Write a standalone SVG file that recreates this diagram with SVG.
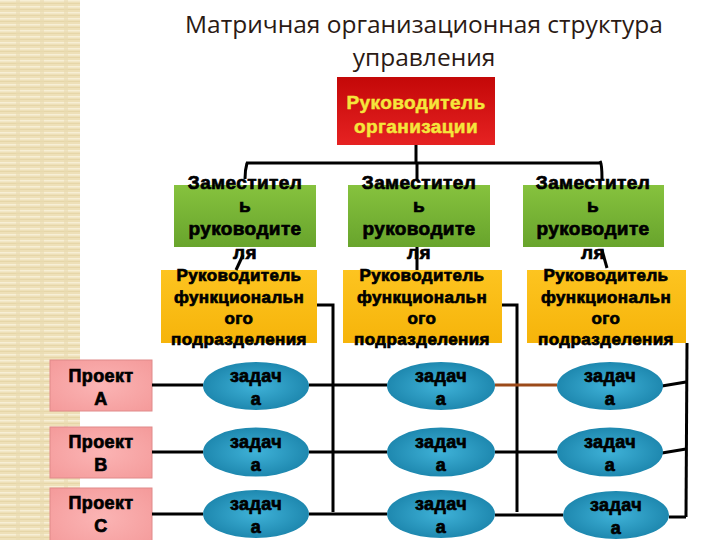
<svg xmlns="http://www.w3.org/2000/svg" width="720" height="540" viewBox="0 0 720 540">
<defs>
<pattern id="stripes" width="24" height="6" patternUnits="userSpaceOnUse">
<rect width="24" height="6" fill="#eee0b8"/>
<rect y="0" width="24" height="1.5" fill="#f7efd6"/>
<rect y="3" width="24" height="1" fill="#e6d6a8"/>
<rect x="16" y="0" width="4" height="6" fill="#e9dab0" opacity="0.6"/>
</pattern>
<linearGradient id="gRed" x1="0" y1="0" x2="0" y2="1">
<stop offset="0" stop-color="#c40808"/>
<stop offset="1" stop-color="#e62222"/>
</linearGradient>
<linearGradient id="gGreen" x1="0" y1="0" x2="0" y2="1">
<stop offset="0" stop-color="#86c23e"/>
<stop offset="1" stop-color="#68a42c"/>
</linearGradient>
<linearGradient id="gYellow" x1="0" y1="0" x2="0" y2="1">
<stop offset="0" stop-color="#fdc420"/>
<stop offset="1" stop-color="#f6b40a"/>
</linearGradient>
<radialGradient id="gPink" cx="0.5" cy="0.5" r="0.7">
<stop offset="0" stop-color="#fbb4b4"/>
<stop offset="1" stop-color="#f49a9a"/>
</radialGradient>
<radialGradient id="gBlue" cx="0.5" cy="0.5" r="0.55">
<stop offset="0" stop-color="#3fb2d8"/>
<stop offset="1" stop-color="#1b84ab"/>
</radialGradient>
</defs>
<style>
.t{font-family:"Liberation Sans",Arial,sans-serif;font-weight:bold;text-anchor:middle;fill:#000;stroke:#000;stroke-width:0.7;letter-spacing:0.4px}
.g{font-size:19px}
.y{font-size:17px}
.p{font-size:18px}
.k{font-size:18px}
.r{font-size:19px;fill:#f5e63c;stroke:#f5e63c;stroke-width:0.5}
.title{font-family:"Open Sans","DejaVu Sans",sans-serif;font-size:24.5px;fill:#2b1a14;text-anchor:middle}
.ln{stroke:#000;stroke-width:3;fill:none}
.pink{fill:url(#gPink);stroke:#e08a8a;stroke-width:1}
.ell{fill:url(#gBlue)}
</style>
<rect width="720" height="540" fill="#fff"/>
<rect x="0" y="0" width="80" height="540" fill="url(#stripes)"/>

<g id="title">
<text class="title" x="424" y="33">Матричная организационная структура</text>
<text class="title" x="424" y="66">управления</text>
</g>

<g id="head">
<rect x="337" y="77" width="158" height="68" fill="url(#gRed)"/>
<text class="t r" x="416" y="109">Руководитель</text>
<text class="t r" x="416" y="133">организации</text>
</g>

<g id="deputy1">
<rect x="174" y="185" width="142" height="62" fill="url(#gGreen)"/>
<text class="t g" x="245" y="189">Заместител</text>
<text class="t g" x="245" y="212">ь</text>
<text class="t g" x="245" y="235">руководите</text>
<text class="t g" x="245" y="259">ля</text>
</g>
<g id="deputy2">
<rect x="348" y="185" width="142" height="62" fill="url(#gGreen)"/>
<text class="t g" x="419" y="189">Заместител</text>
<text class="t g" x="419" y="212">ь</text>
<text class="t g" x="419" y="235">руководите</text>
<text class="t g" x="419" y="259">ля</text>
</g>
<g id="deputy3">
<rect x="523" y="185" width="141" height="62" fill="url(#gGreen)"/>
<text class="t g" x="593" y="189">Заместител</text>
<text class="t g" x="593" y="212">ь</text>
<text class="t g" x="593" y="235">руководите</text>
<text class="t g" x="593" y="259">ля</text>
</g>

<g id="func1">
<rect x="161" y="270" width="156" height="73" fill="url(#gYellow)"/>
<text class="t y" x="239" y="281">Руководитель</text>
<text class="t y" x="239" y="303">функциональн</text>
<text class="t y" x="239" y="324">ого</text>
<text class="t y" x="239" y="345">подразделения</text>
</g>
<g id="func2">
<rect x="343" y="270" width="159" height="73" fill="url(#gYellow)"/>
<text class="t y" x="422" y="281">Руководитель</text>
<text class="t y" x="422" y="303">функциональн</text>
<text class="t y" x="422" y="324">ого</text>
<text class="t y" x="422" y="345">подразделения</text>
</g>
<g id="func3">
<rect x="527" y="270" width="159" height="73" fill="url(#gYellow)"/>
<text class="t y" x="606" y="281">Руководитель</text>
<text class="t y" x="606" y="303">функциональн</text>
<text class="t y" x="606" y="324">ого</text>
<text class="t y" x="606" y="345">подразделения</text>
</g>

<g id="projA">
<rect class="pink" x="50" y="360" width="102" height="51"/>
<text class="t p" x="101" y="382">Проект</text>
<text class="t p" x="101" y="405">А</text>
</g>
<g id="projB">
<rect class="pink" x="50" y="427" width="102" height="51"/>
<text class="t p" x="101" y="448">Проект</text>
<text class="t p" x="101" y="471">В</text>
</g>
<g id="projC">
<rect class="pink" x="50" y="488" width="102" height="60"/>
<text class="t p" x="101" y="509">Проект</text>
<text class="t p" x="101" y="532">С</text>
</g>

<g id="connectors">
<path class="ln" d="M416 145V163"/>
<path class="ln" d="M246 163H602"/>
<path class="ln" d="M247 163Q245 170 245 179"/>
<path class="ln" d="M417 163V180"/>
<path class="ln" d="M600 161Q602 164 602 179"/>
<path class="ln" d="M243 255L236 270" stroke-width="2"/>
<path class="ln" d="M417 247V270" stroke-width="2"/>
<path class="ln" d="M602 250L607 268" stroke-width="2"/>
<path class="ln" d="M317 305H333V512"/>
<path class="ln" d="M502 305H517V512"/>
<path class="ln" d="M687 343L686 517"/>
<path class="ln" d="M152 385H203M309 385H387"/>
<path d="M495 385H557" stroke="#9b4a1a" stroke-width="3"/>
<path class="ln" d="M662 386L686 382"/>
<path class="ln" d="M152 452H203M309 452H387M495 452H557"/>
<path class="ln" d="M662 453L686 449"/>
<path class="ln" d="M152 514H203M309 514H387M495 515H563"/>
<path class="ln" d="M669 517H686"/>
</g>

<g id="task-a1"><ellipse class="ell" cx="256" cy="386" rx="53" ry="24"/><text class="t k" x="256" y="382">задач</text><text class="t k" x="256" y="405">а</text></g>
<g id="task-a2"><ellipse class="ell" cx="441" cy="386" rx="54" ry="24"/><text class="t k" x="441" y="382">задач</text><text class="t k" x="441" y="405">а</text></g>
<g id="task-a3"><ellipse class="ell" cx="610" cy="386" rx="53" ry="24"/><text class="t k" x="610" y="382">задач</text><text class="t k" x="610" y="405">а</text></g>
<g id="task-b1"><ellipse class="ell" cx="256" cy="452" rx="53" ry="24.5"/><text class="t k" x="256" y="448">задач</text><text class="t k" x="256" y="471">а</text></g>
<g id="task-b2"><ellipse class="ell" cx="441" cy="452" rx="54" ry="24.5"/><text class="t k" x="441" y="448">задач</text><text class="t k" x="441" y="471">а</text></g>
<g id="task-b3"><ellipse class="ell" cx="610" cy="452" rx="53" ry="24.5"/><text class="t k" x="610" y="448">задач</text><text class="t k" x="610" y="471">а</text></g>
<g id="task-c1"><ellipse class="ell" cx="256" cy="514" rx="53" ry="24"/><text class="t k" x="256" y="510">задач</text><text class="t k" x="256" y="533">а</text></g>
<g id="task-c2"><ellipse class="ell" cx="441" cy="514" rx="54" ry="24"/><text class="t k" x="441" y="510">задач</text><text class="t k" x="441" y="533">а</text></g>
<g id="task-c3"><ellipse class="ell" cx="616" cy="515" rx="53" ry="24"/><text class="t k" x="616" y="511">задач</text><text class="t k" x="616" y="534">а</text></g>
</svg>
